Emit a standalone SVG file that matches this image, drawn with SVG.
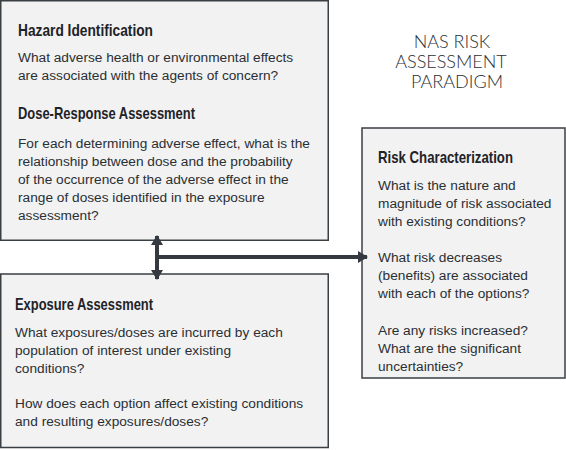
<svg xmlns="http://www.w3.org/2000/svg" width="566" height="450" viewBox="0 0 566 450">
<style>
.box{fill:#f2f2f2;stroke:#3a3f44;stroke-width:1.5}
.h{font-family:"Liberation Sans","Arial",sans-serif;font-weight:bold;font-size:17px;fill:#1e2328}
.b{font-family:"Liberation Sans","Arial",sans-serif;font-size:13.7px;fill:#2a2f34}
.t{font-family:"Lato","Open Sans",sans-serif;font-weight:300;font-size:18px;fill:#2a2f34;text-anchor:middle}
.c{fill:none;stroke:#343a40;stroke-width:4}
</style>
<defs>
<marker id="ah" viewBox="0 0 10 12" markerWidth="10" markerHeight="12" refX="9" refY="6" orient="auto-start-reverse" markerUnits="userSpaceOnUse">
<path d="M0,0 L10,6 L0,12 z" fill="#343a40"/>
</marker>
</defs>
<rect width="566" height="450" fill="#ffffff"/>
<g id="title">
<text class="t" x="452" y="48">NAS RISK</text>
<text class="t" x="451" y="68">ASSESSMENT</text>
<text class="t" x="457" y="88">PARADIGM</text>
</g>
<g id="hazard-dose">
<rect class="box" x="0.75" y="0.75" width="327.5" height="239.5"/>
<text class="h" x="18" y="36" textLength="135" lengthAdjust="spacingAndGlyphs">Hazard Identification</text>
<text class="b" x="18" y="62">What adverse health or environmental effects</text>
<text class="b" x="18" y="80">are associated with the agents of concern?</text>
<text class="h" x="18" y="119" textLength="177" lengthAdjust="spacingAndGlyphs">Dose-Response Assessment</text>
<text class="b" x="18" y="148">For each determining adverse effect, what is the</text>
<text class="b" x="18" y="166">relationship between dose and the probability</text>
<text class="b" x="18" y="184">of the occurrence of the adverse effect in the</text>
<text class="b" x="18" y="202">range of doses identified in the exposure</text>
<text class="b" x="18" y="220">assessment?</text>
</g>
<g id="exposure">
<rect class="box" x="0.75" y="274" width="327.5" height="173.5"/>
<text class="h" x="15" y="310" textLength="138" lengthAdjust="spacingAndGlyphs">Exposure Assessment</text>
<text class="b" x="15" y="337">What exposures/doses are incurred by each</text>
<text class="b" x="15" y="355">population of interest under existing</text>
<text class="b" x="15" y="373">conditions?</text>
<text class="b" x="15" y="408">How does each option affect existing conditions</text>
<text class="b" x="15" y="426">and resulting exposures/doses?</text>
</g>
<g id="risk">
<rect class="box" x="362" y="128" width="203" height="250"/>
<text class="h" x="378" y="163" textLength="135" lengthAdjust="spacingAndGlyphs">Risk Characterization</text>
<text class="b" x="378" y="190">What is the nature and</text>
<text class="b" x="378" y="208">magnitude of risk associated</text>
<text class="b" x="378" y="226">with existing conditions?</text>
<text class="b" x="378" y="262">What risk decreases</text>
<text class="b" x="378" y="280">(benefits) are associated</text>
<text class="b" x="378" y="298">with each of the options?</text>
<text class="b" x="378" y="335">Are any risks increased?</text>
<text class="b" x="378" y="353">What are the significant</text>
<text class="b" x="378" y="371">uncertainties?</text>
</g>
<g id="connectors">
<line class="c" x1="157" y1="236" x2="157" y2="279" marker-start="url(#ah)" marker-end="url(#ah)"/>
<line class="c" x1="157" y1="257" x2="367" y2="257" marker-end="url(#ah)"/>
</g>
</svg>
